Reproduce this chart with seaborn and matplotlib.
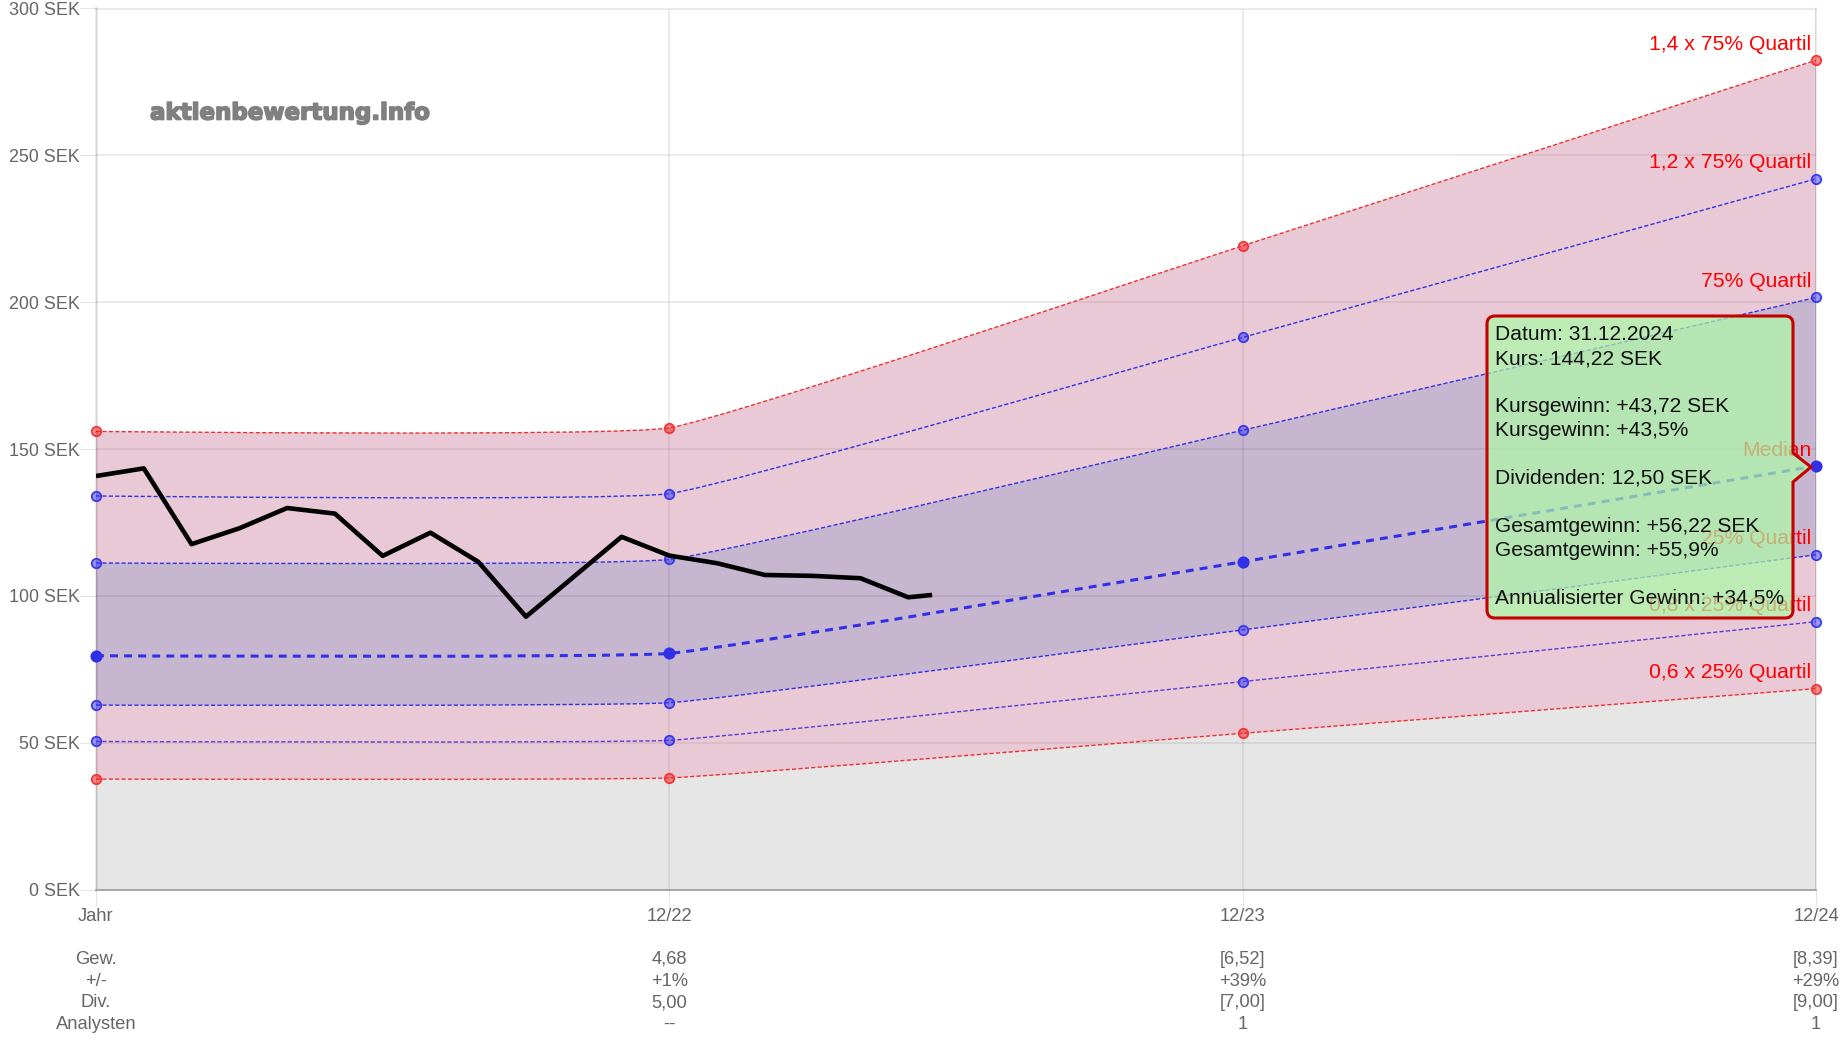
import numpy as np
import pandas as pd
import matplotlib
matplotlib.use("Agg")
import matplotlib.pyplot as plt
import matplotlib.patheffects as pe
from matplotlib.path import Path
from matplotlib.patches import PathPatch
from matplotlib.transforms import IdentityTransform
import seaborn as sns

W, H = 1843, 1044

# ---- data ----
year_pos = [0, 1, 2, 3]
q14 = [156.0, 157.2, 219.2, 282.4]
q12 = [134.0, 134.8, 188.0, 242.0]
q75 = [111.2, 112.4, 156.4, 201.6]
median = [79.6, 80.4, 111.6, 144.22]
q25 = [62.8, 63.6, 88.4, 114.0]
q08 = [50.4, 50.8, 70.8, 91.2]
q06 = [37.6, 38.0, 53.2, 68.4]
label_14 = "1,4 x 75% Quartil"
label_12 = "1,2 x 75% Quartil"
label_75 = "75% Quartil"
label_med = "Median"
label_25 = "25% Quartil"
label_08 = "0,8 x 25% Quartil"
label_06 = "0,6 x 25% Quartil"

price_month = [0, 1, 2, 3, 4, 5, 6, 7, 8, 9, 10, 11, 12, 13, 14, 15, 16, 17, 17.5]
price = [140.8, 143.4, 117.6, 123.0, 129.9, 128.0, 113.6, 121.5, 111.6, 92.9,
         106.5, 120.1, 113.7, 111.1, 107.1, 106.8, 106.0, 99.5, 100.3]

y_ticks = [0, 50, 100, 150, 200, 250, 300]
y_tick_labels = ["0 SEK", "50 SEK", "100 SEK", "150 SEK", "200 SEK", "250 SEK", "300 SEK"]
x_rows = [
    ["Jahr", "12/22", "12/23", "12/24"],
    ["", "", "", ""],
    ["Gew.", "4,68", "[6,52]", "[8,39]"],
    ["+/-", "+1%", "+39%", "+29%"],
    ["Div.", "5,00", "[7,00]", "[9,00]"],
    ["Analysten", "--", "1", "1"],
]
tooltip_lines = [
    "Datum: 31.12.2024", "Kurs: 144,22 SEK", "",
    "Kursgewinn: +43,72 SEK", "Kursgewinn: +43,5%", "",
    "Dividenden: 12,50 SEK", "",
    "Gesamtgewinn: +56,22 SEK", "Gesamtgewinn: +55,9%", "",
    "Annualisierter Gewinn: +34,5%",
]
watermark = "aktienbewertung.info"

# ---- style ----
RED = "#f03030"
BLUE = "#3030e8"
PURP = "#5a3ad8"
sns.set_theme(style="white")
plt.rcParams["font.family"] = ["Liberation Sans", "DejaVu Sans"]

fig = plt.figure(figsize=(W / 100, H / 100), dpi=100, facecolor="white")
ax = fig.add_axes([96 / W, 1 - 889.5 / H, (1816 - 96) / W, (889.5 - 8.5) / H])
ax.set_xlim(0, 3)
ax.set_ylim(0, 300)
ax.set_axisbelow(True)
grid_c = (0, 0, 0, 0.10)
ax.set_yticks(y_ticks)
ax.set_yticklabels(y_tick_labels)
ax.set_xticks(year_pos)
ax.set_xticklabels(["\n".join(r[i] for r in x_rows) for i in range(4)], linespacing=1.36)
ax.grid(True, color="black", alpha=0.10, lw=1.1)
ax.tick_params(axis="y", length=11.5, width=0.8, color=grid_c, labelcolor="#666666",
               labelsize=12.9, pad=0, left=True)
ax.tick_params(axis="x", length=11.5, width=0.8, color=grid_c, labelcolor="#666666",
               labelsize=13.2, pad=1.5, bottom=True)
for s in ["top", "right", "left"]:
    ax.spines[s].set_color((0, 0, 0, 0.10))
    ax.spines[s].set_linewidth(1.1)
ax.spines["left"].set_linewidth(1.8)
ax.spines["bottom"].set_color("#a0a0a0")
ax.spines["bottom"].set_linewidth(1.3)


def bezier(xs, ys, t=0.1):
    """Chart.js style spline through the points, computed in pixels."""
    p = ax.transData.transform(np.column_stack([xs, ys]))
    n = len(p)
    prev, nxt = p.copy(), p.copy()
    for i in range(1, n - 1):
        d01 = np.linalg.norm(p[i] - p[i - 1])
        d12 = np.linalg.norm(p[i + 1] - p[i])
        s = d01 / (d01 + d12)
        prev[i] = p[i] - t * s * (p[i + 1] - p[i - 1])
        nxt[i] = p[i] + t * (1 - s) * (p[i + 1] - p[i - 1])
    v = [p[0]]
    for i in range(n - 1):
        v += [nxt[i], prev[i + 1], p[i + 1]]
    return ax.transData.inverted().transform(np.array(v))


def curve_patch(ys, **kw):
    v = bezier(year_pos, ys)
    codes = [Path.MOVETO] + [Path.CURVE4] * (len(v) - 1)
    ax.add_patch(PathPatch(Path(v, codes), fill=False, capstyle="butt", clip_on=False, **kw))


def band(lo, hi, color, z):
    a = bezier(year_pos, hi)
    b = bezier(year_pos, lo)[::-1]
    v = np.vstack([a, b, a[:1]])
    codes = ([Path.MOVETO] + [Path.CURVE4] * (len(a) - 1) + [Path.LINETO]
             + [Path.CURVE4] * (len(b) - 1) + [Path.CLOSEPOLY])
    ax.add_patch(PathPatch(Path(v, codes), fc=color, ec="none", lw=0, zorder=z))


zeros = [0, 0, 0, 0]
band(zeros, q06, (0.35, 0.35, 0.35, 0.15), 1)
band(q06, q25, (189 / 255, 98 / 255, 132 / 255, 0.34), 1)
band(q25, q75, (86 / 255, 35 / 255, 112 / 255, 0.33), 1)
band(q75, q14, (189 / 255, 98 / 255, 132 / 255, 0.34), 1)

thin = (0, (3.0, 1.6))
for ys, c in [(q14, RED), (q12, BLUE), (q75, BLUE), (q25, BLUE), (q08, PURP), (q06, RED)]:
    curve_patch(ys, ec=c, lw=1.0, ls=thin, zorder=3)
curve_patch(median, ec=BLUE, lw=2.2, ls=(0, (2.6, 2.0)), zorder=3)

rows = []
for name, ys in [("red", q14), ("blue", q12), ("blue", q75), ("blue", q25), ("blue", q08), ("red", q06)]:
    rows += [{"x": x, "y": y, "c": name} for x, y in zip(year_pos, ys)]
pts = pd.DataFrame(rows)
for name, col, fc in [("red", "#f03838", (1, 0.1, 0.1, 0.5)), ("blue", "#3a3ae8", (0.2, 0.2, 1, 0.5))]:
    sub = pts[pts.c == name]
    sns.scatterplot(data=sub, x="x", y="y", ax=ax, s=46, color=[fc], edgecolor=col, linewidth=1.3,
                    zorder=4, clip_on=False, legend=False)
sns.scatterplot(x=year_pos, y=median, ax=ax, s=76, color=BLUE, edgecolor=BLUE, linewidth=0,
                zorder=4, clip_on=False, legend=False)

price_df = pd.DataFrame({"x": np.array(price_month) / 12, "y": price})
sns.lineplot(data=price_df, x="x", y="y", ax=ax, color="black", lw=3.3, sort=False, zorder=6,
             estimator=None, solid_joinstyle="round", solid_capstyle="butt", legend=False)
ax.set_xlabel("")
ax.set_ylabel("")
ax.set_xlim(0, 3)
ax.set_ylim(0, 300)

for ys, lab in [(q14, label_14), (q12, label_12), (q75, label_75), (median, label_med),
                (q25, label_25), (q08, label_08), (q06, label_06)]:
    ax.annotate(lab, xy=(year_pos[-1], ys[-1]), xytext=(-3.2, 11.4), textcoords="offset points",
                ha="right", va="center", color="#ff0000", fontsize=15.2, zorder=5,
                annotation_clip=False)

# watermark
fig.text(150 / W, 1 - 113 / H, watermark, ha="left", va="center", color="#808080",
         fontsize=16.5, fontweight="bold", family="DejaVu Sans",
         path_effects=[pe.withStroke(linewidth=1.2, foreground="#808080")], zorder=5)

# tooltip, in pixels
L, R, T, B, r = 1487, 1793, 316, 618, 8
tip = (1811, 467)
pv = [(L + r, T), (R - r, T), (R, T), (R, T + r), (R, 453), tip, (R, 482), (R, B - r), (R, B), (R - r, B),
      (L + r, B), (L, B), (L, B - r), (L, T + r), (L, T), (L + r, T), (L + r, T)]
pc = [Path.MOVETO, Path.LINETO, Path.CURVE3, Path.CURVE3, Path.LINETO, Path.LINETO, Path.LINETO,
      Path.LINETO, Path.CURVE3, Path.CURVE3, Path.LINETO, Path.CURVE3, Path.CURVE3, Path.LINETO,
      Path.CURVE3, Path.CURVE3, Path.CLOSEPOLY]
pv_d = [(x, H - y) for x, y in pv]
fig.add_artist(PathPatch(Path(pv_d, pc), fc=(172 / 255, 250 / 255, 166 / 255, 0.7), ec="none",
                         transform=IdentityTransform(), zorder=20))
fig.add_artist(PathPatch(Path(pv_d, pc), fc="none", ec="#c40000", lw=2.2,
                         transform=IdentityTransform(), zorder=21))
for i, line in enumerate(tooltip_lines):
    if line:
        fig.text(1495 / W, 1 - (334.5 + 24 * i) / H, line, ha="left", va="center", color="#101010",
                 fontsize=15.1, zorder=22)

fig.savefig("out.png", dpi=100, facecolor="white")
